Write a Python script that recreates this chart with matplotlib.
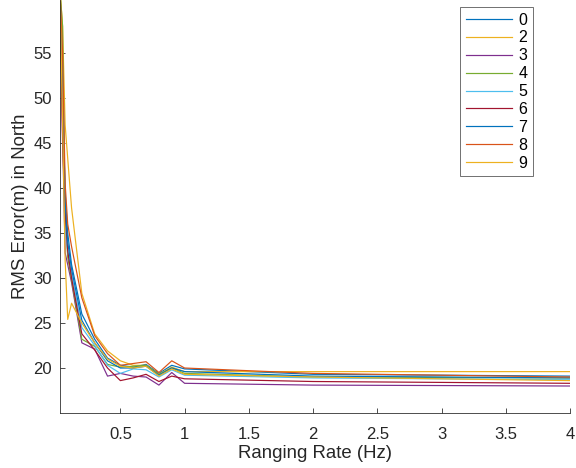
import matplotlib
matplotlib.use("Agg")
from matplotlib import pyplot as plt

plt.rcParams["font.family"] = ["Liberation Sans", "DejaVu Sans"]
plt.rcParams["font.size"] = 10

# ranging rate (Hz)
rates = [0.03, 0.05, 0.07, 0.09, 0.12, 0.2, 0.3, 0.4, 0.5, 0.6, 0.7, 0.8, 0.9, 1, 2, 4]

# RMS north error per run
rms_0 = [62, 50, 39.5, 35, 31.5, 26.0, 23.2, 21.1, 20.3, 20.1, 20.4, 19.4, 20.3, 19.9, 19.3, 19.1]
rms_2 = [62, 58, 47, 43.3, 37.8, 28.3, 23.8, 21.9, 20.8, 20.3, 20.3, 19.3, 20.1, 19.6, 19.6, 19.6]
rms_3 = [62, 46, 32.8, 31.5, 29.5, 22.8, 22.1, 19.1, 19.4, 19.1, 19.0, 18.1, 19.5, 18.3, 18.1, 18.0]
rms_4 = [62, 58, 37.0, 32.3, 29.8, 23.2, 22.4, 20.4, 20.1, 20.2, 20.3, 19.3, 20.0, 19.4, 19.0, 18.9]
rms_5 = [62, 48, 35.3, 33, 30.5, 24.5, 22.5, 20.3, 19.4, 19.9, 19.8, 19.0, 19.8, 19.2, 18.9, 18.7]
rms_6 = [62, 45, 37.5, 33, 30.0, 23.8, 22.0, 20.0, 18.6, 18.9, 19.3, 18.5, 19.1, 18.8, 18.5, 18.3]
rms_7 = [62, 52, 38.5, 34, 31, 25.3, 22.8, 20.8, 20.0, 20.0, 20.2, 19.2, 20.0, 19.6, 19.1, 18.9]
rms_8 = [62, 55, 40.5, 36, 33.5, 27.8, 23.6, 21.6, 20.3, 20.5, 20.7, 19.5, 20.8, 20.0, 19.4, 19.0]
rms_9 = [62, 47.4, 32, 25.4, 27.2, 25.0, 22.8, 21.0, 20.2, 20.0, 20.2, 19.1, 19.9, 19.3, 19.0, 18.6]

labels = ["0", "2", "3", "4", "5", "6", "7", "8", "9"]
series = [rms_0, rms_2, rms_3, rms_4, rms_5, rms_6, rms_7, rms_8, rms_9]
colors = ["#0072BD", "#EDB120", "#7E2F8E", "#77AC30", "#4DBEEE",
          "#A2142F", "#0072BD", "#D95319", "#EDB120"]

fig = plt.figure(figsize=(6, 4.875), dpi=96)
ax = fig.add_axes([60 / 576, 55 / 468, 510 / 576, 413 / 468])

for lab, ys, c in zip(labels, series, colors):
    ax.plot(rates, ys, color=c, lw=0.9, label=lab)

ax.set_xlim(0.03, 4)
ax.set_ylim(15, 60.9)
ax.set_xticks([0.5, 1, 1.5, 2, 2.5, 3, 3.5, 4])
ax.set_xticklabels(["0.5", "1", "1.5", "2", "2.5", "3", "3.5", "4"])
ax.set_yticks([20, 25, 30, 35, 40, 45, 50, 55])
ax.tick_params(direction="in", length=4, width=0.6, colors="#262626",
               labelsize=12.5, pad=6)
ax.tick_params(axis="x", pad=10.5)
for side in ["top", "right"]:
    ax.spines[side].set_visible(False)
for side in ["left", "bottom"]:
    ax.spines[side].set_color("#262626")
    ax.spines[side].set_linewidth(0.6)

ax.set_xlabel("Ranging Rate (Hz)", fontsize=14, color="#262626", labelpad=2)
ax.set_ylabel("RMS Error(m) in North", fontsize=14, color="#262626", labelpad=3)

leg = ax.legend(loc="upper right", bbox_to_anchor=(533 / 576, 1 - 7 / 468),
                bbox_transform=fig.transFigure, frameon=True, fancybox=False,
                handlelength=2.9, handletextpad=0.4, labelspacing=0.18,
                borderpad=0.35, borderaxespad=0, fontsize=12)
leg.get_frame().set_edgecolor("#262626")
leg.get_frame().set_linewidth(0.6)

fig.savefig("out.png", dpi=96)
